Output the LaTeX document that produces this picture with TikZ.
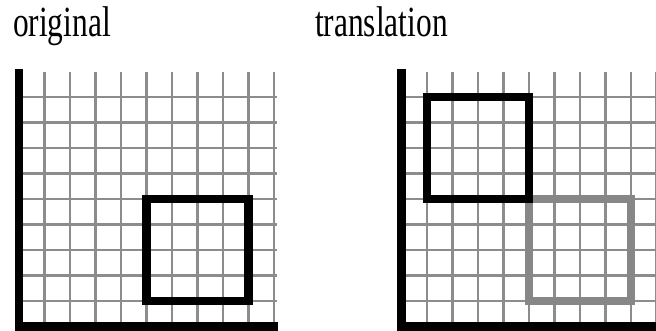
\documentclass[tikz,border=0pt]{standalone}
\usepackage{fontspec}
\usepackage{xcolor}
\newfontfamily\capfont[FakeStretch=0.73]{Liberation Serif}
\definecolor{gridgray}{gray}{0.55}
\definecolor{boxgray}{gray}{0.53}

\begin{document}
\begin{tikzpicture}[x=0.5cm,y=0.5cm,
	gridline/.style={line width=1.4pt,color=gridgray},
	axisline/.style={line width=4.8pt},
	box/.style={line width=4.6pt},
	caption/.style={anchor=base west,inner sep=0pt,
		font=\capfont\fontsize{24}{28}\selectfont}]
		\useasboundingbox (-0.745,-0.169) rectangle (24.98,12.81);
		% titles
		\node[caption] (orig) at (-0.245,11.37) {original};
		\node[caption] (trans) at (11.6,11.37) {translation};
		% grids and axes
		\foreach \p in {0,15} {
			\begin{scope}[shift={(\p,0)}]
				\foreach \i in {1,...,10}
					\draw[gridline] (\i,0) -- (\i,10);
				\foreach \j in {1,...,9}
					\draw[gridline] (0,\j) -- (10.1,\j);
				\draw[axisline] (0,10.1) -- (0,0) -- (10.15,0);
			\end{scope}
		}
		% original square
		\draw[box] (5,1) rectangle (9,5);
		% translated square
		\begin{scope}[shift={(15,0)}]
			\draw[box,boxgray] (5,1) rectangle (9,5);
			\draw[box] (1,5) rectangle (5,9);
		\end{scope}
\end{tikzpicture}
\end{document}
